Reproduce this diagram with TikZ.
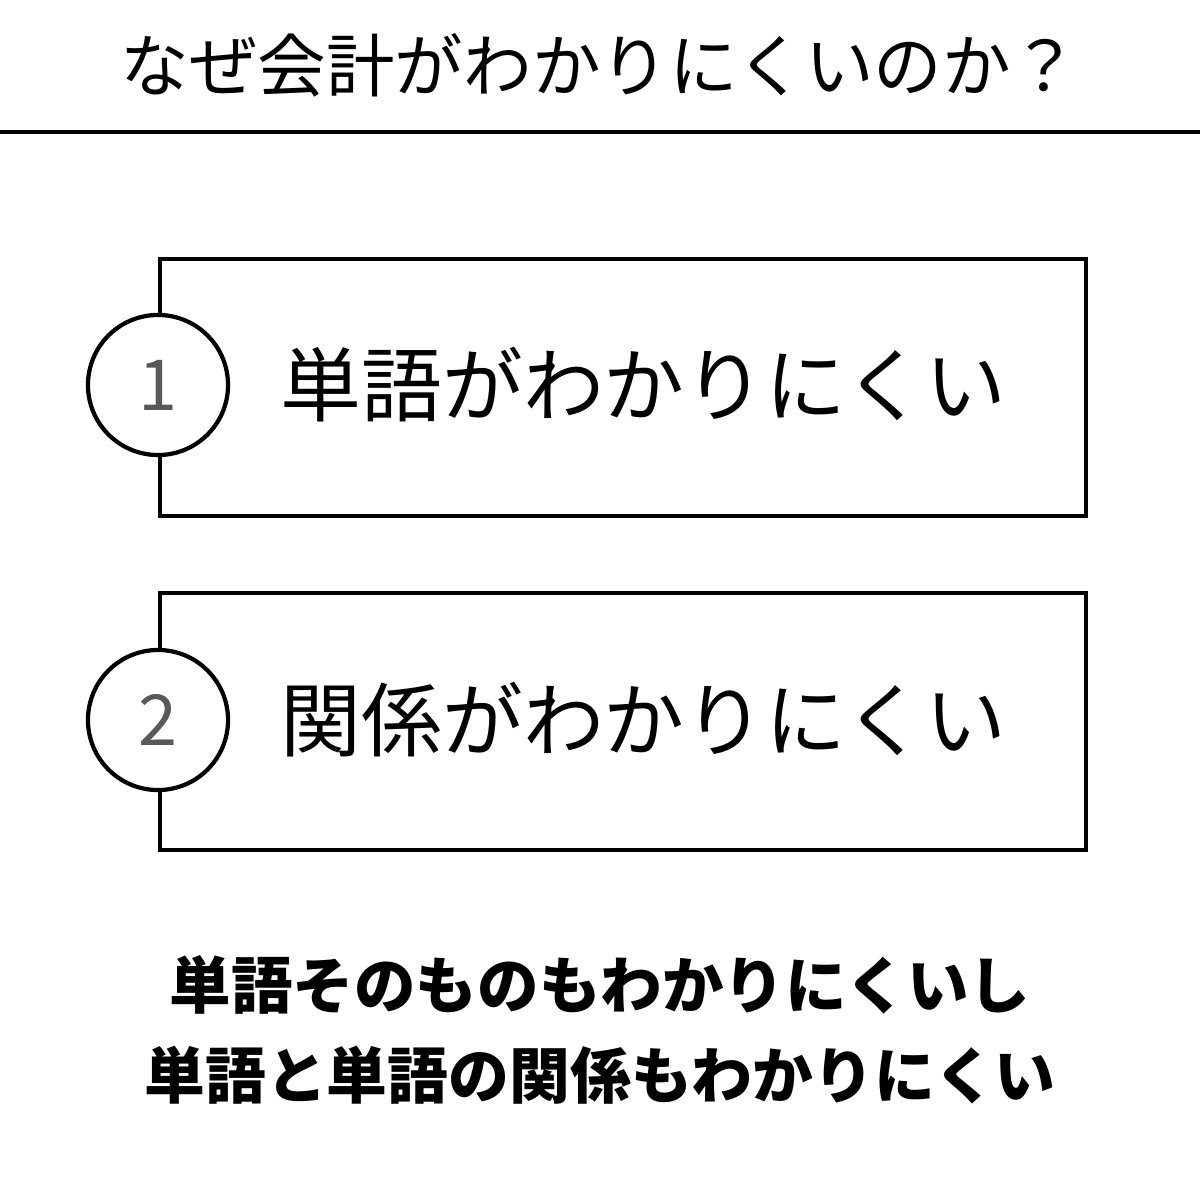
\documentclass[tikz,border=0pt]{standalone}
\usepackage{fontspec}
\newfontfamily\cjk{Noto Sans CJK JP}
\newfontfamily\cjklight{Noto Sans CJK JP Light}
\tikzset{
  reason/.style={draw, line width=1.2pt, minimum width=9.25cm, minimum height=2.57cm, anchor=north west},
  num/.style={circle, draw, fill=white, line width=1.2pt, minimum size=1.4cm, text=black!65, font=\cjk\fontsize{20}{20}\selectfont},
  label/.style={font=\cjk\fontsize{23}{23}\selectfont, anchor=west}
}
\begin{document}
\begin{tikzpicture}[x=0.01cm,y=-0.01cm]
  \useasboundingbox (0,0) rectangle (1200,1200);
  % title
  \node[font=\cjk\fontsize{19.5}{19.5}\selectfont] (title) at (600,65) {なぜ会計がわかりにくいのか？};
  \draw[line width=1pt] (0,132) -- (1200,132);

  % boxes
  \node[reason] (box1) at (158,257) {};
  \node[num] (n1) at (158,385) {1};
  \node[label] (t1) at (268,385) {単語がわかりにくい};

  \node[reason] (box2) at (158,591) {};
  \node[num] (n2) at (158,720) {2};
  \node[label] (t2) at (268,720) {関係がわかりにくい};

  % summary
  \node[font=\cjk\bfseries\fontsize{17.5}{17.5}\selectfont] (sum1) at (600,985) {単語そのものもわかりにくいし};
  \node[font=\cjk\bfseries\fontsize{17.3}{17.3}\selectfont] (sum2) at (600,1075) {単語と単語の関係もわかりにくい};
\end{tikzpicture}
\end{document}
